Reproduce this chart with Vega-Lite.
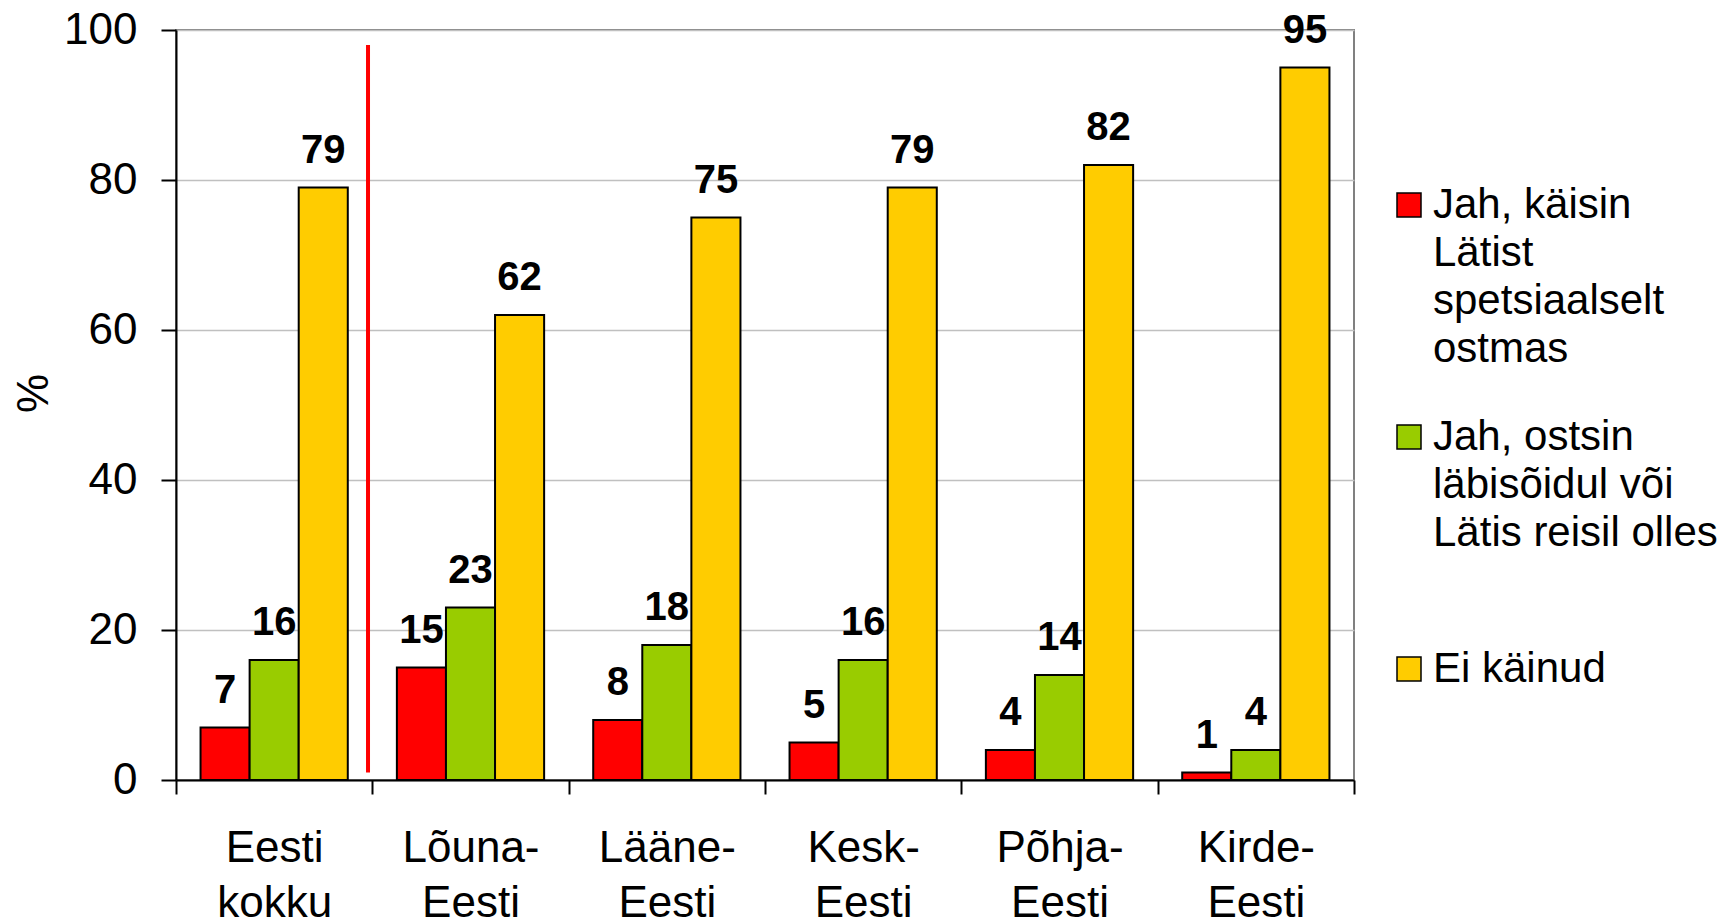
{
  "$schema": "https://vega.github.io/schema/vega-lite/v6.json",
  "width": 1178,
  "height": 750,
  "autosize": {"type": "none"},
  "padding": {"left": 176, "top": 30, "right": 379, "bottom": 140},
  "background": "white",
  "config": {
    "font": "Liberation Sans",
    "view": {"stroke": "#808080", "strokeWidth": 2},
    "axis": {"labelFont": "Liberation Sans", "titleFont": "Liberation Sans"},
    "legend": {"labelFont": "Liberation Sans"}
  },
  "datasets": {
    "bars": [
      {"category": "Eesti kokku", "series": "Jah, käisin Lätist spetsiaalselt ostmas", "value": 7},
      {"category": "Eesti kokku", "series": "Jah, ostsin läbisõidul või Lätis reisil olles", "value": 16},
      {"category": "Eesti kokku", "series": "Ei käinud", "value": 79},
      {"category": "Lõuna-Eesti", "series": "Jah, käisin Lätist spetsiaalselt ostmas", "value": 15},
      {"category": "Lõuna-Eesti", "series": "Jah, ostsin läbisõidul või Lätis reisil olles", "value": 23},
      {"category": "Lõuna-Eesti", "series": "Ei käinud", "value": 62},
      {"category": "Lääne-Eesti", "series": "Jah, käisin Lätist spetsiaalselt ostmas", "value": 8},
      {"category": "Lääne-Eesti", "series": "Jah, ostsin läbisõidul või Lätis reisil olles", "value": 18},
      {"category": "Lääne-Eesti", "series": "Ei käinud", "value": 75},
      {"category": "Kesk-Eesti", "series": "Jah, käisin Lätist spetsiaalselt ostmas", "value": 5},
      {"category": "Kesk-Eesti", "series": "Jah, ostsin läbisõidul või Lätis reisil olles", "value": 16},
      {"category": "Kesk-Eesti", "series": "Ei käinud", "value": 79},
      {"category": "Põhja-Eesti", "series": "Jah, käisin Lätist spetsiaalselt ostmas", "value": 4},
      {"category": "Põhja-Eesti", "series": "Jah, ostsin läbisõidul või Lätis reisil olles", "value": 14},
      {"category": "Põhja-Eesti", "series": "Ei käinud", "value": 82},
      {"category": "Kirde-Eesti", "series": "Jah, käisin Lätist spetsiaalselt ostmas", "value": 1},
      {"category": "Kirde-Eesti", "series": "Jah, ostsin läbisõidul või Lätis reisil olles", "value": 4},
      {"category": "Kirde-Eesti", "series": "Ei käinud", "value": 95}
    ],
    "separator": [
      {"category": "Eesti kokku", "top": 98, "bottom": 1}
    ]
  },
  "layer": [
    {
      "data": {"name": "bars"},
      "mark": {"type": "bar", "stroke": "black", "strokeWidth": 2},
      "encoding": {
        "x": {
          "field": "category", "type": "nominal",
          "scale": {"domain": ["Eesti kokku", "Lõuna-Eesti", "Lääne-Eesti", "Kesk-Eesti", "Põhja-Eesti", "Kirde-Eesti"], "paddingInner": 0, "paddingOuter": 0},
          "axis": {
            "title": null,
            "labelAngle": 0,
            "labelFontSize": 44,
            "labelColor": "black",
            "labelBaseline": "top",
            "labelLineHeight": 55,
            "labelPadding": 32,
            "labelExpr": "!isString(datum.value) ? '' : datum.value === 'Eesti kokku' ? ['Eesti', 'kokku'] : [replace(datum.value, 'Eesti', ''), 'Eesti']",
            "tickBand": "extent",
            "tickSize": 14,
            "tickWidth": 2,
            "tickColor": "black",
            "domainColor": "black",
            "domainWidth": 2,
            "grid": false
          }
        },
        "xOffset": {
          "field": "series", "type": "nominal",
          "scale": {"domain": ["Jah, käisin Lätist spetsiaalselt ostmas", "Jah, ostsin läbisõidul või Lätis reisil olles", "Ei käinud"], "paddingInner": 0, "paddingOuter": 0.5}
        },
        "y": {
          "field": "value", "type": "quantitative",
          "scale": {"domain": [0, 100], "nice": false},
          "axis": {
            "title": "%",
            "titleFontSize": 44,
            "titleFontWeight": "normal",
            "titleColor": "black",
            "titleAngle": -90,
            "titleX": -142,
            "titleY": 363,
            "titleAlign": "center",
            "titleBaseline": "middle",
            "values": [0, 20, 40, 60, 80, 100],
            "labelFontSize": 44,
            "labelColor": "black",
            "labelPadding": 24,
            "tickSize": 15,
            "tickWidth": 2,
            "tickColor": "black",
            "domainColor": "black",
            "domainWidth": 2,
            "grid": true,
            "gridColor": "#c0c0c0",
            "gridWidth": 1.5
          }
        },
        "fill": {
          "field": "series", "type": "nominal",
          "scale": {"domain": ["Jah, käisin Lätist spetsiaalselt ostmas", "Jah, ostsin läbisõidul või Lätis reisil olles", "Ei käinud"], "range": ["#ff0000", "#99cc00", "#ffcc00"]},
          "legend": {
            "title": null,
            "orient": "none",
            "legendX": 1212,
            "legendY": 154,
            "padding": 0,
            "symbolType": "square",
            "symbolSize": 576,
            "symbolStrokeColor": "black",
            "symbolStrokeWidth": 1.5,
            "symbolOpacity": 1,
            "labelFontSize": 42,
            "labelColor": "black",
            "labelOffset": 3,
            "labelLimit": 0,
            "rowPadding": 46,
            "labelBaseline": "middle",
            "encode": {"labels": {"update": {"lineHeight": {"value": 48}}}},
            "labelExpr": "datum.value === 'Jah, käisin Lätist spetsiaalselt ostmas' ? ['Jah, käisin', 'Lätist', 'spetsiaalselt', 'ostmas'] : datum.value === 'Jah, ostsin läbisõidul või Lätis reisil olles' ? ['Jah, ostsin', 'läbisõidul või', 'Lätis reisil olles', ' '] : ['Ei käinud', ' ', ' ', ' ']"
          }
        }
      }
    },
    {
      "data": {"name": "bars"},
      "mark": {"type": "text", "fontSize": 40, "fontWeight": "bold", "color": "black", "baseline": "alphabetic", "dy": -25},
      "encoding": {
        "x": {"field": "category", "type": "nominal"},
        "xOffset": {"field": "series", "type": "nominal"},
        "y": {"field": "value", "type": "quantitative"},
        "text": {"field": "value", "type": "quantitative"}
      }
    },
    {
      "data": {"name": "separator"},
      "mark": {"type": "rule", "color": "#ff0000", "strokeWidth": 4},
      "encoding": {
        "x": {"field": "category", "type": "nominal", "bandPosition": 0.978},
        "y": {"field": "top", "type": "quantitative"},
        "y2": {"field": "bottom"}
      }
    }
  ]
}
